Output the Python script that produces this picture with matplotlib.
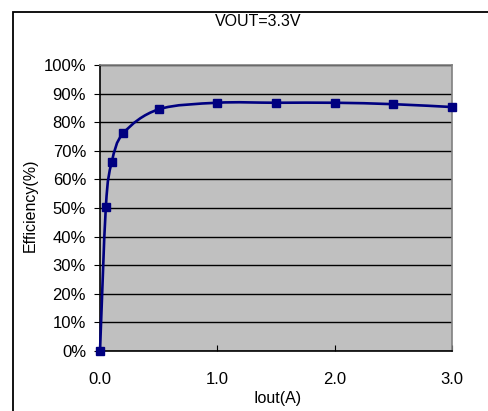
import numpy as np
import matplotlib
matplotlib.use("Agg")
import matplotlib.pyplot as plt
from matplotlib.path import Path
from matplotlib.patches import PathPatch, Rectangle

plt.rcParams['font.family'] = ['Liberation Sans', 'DejaVu Sans']

# efficiency curve, VOUT=3.3V
iout = [0.0, 0.05, 0.1, 0.2, 0.5, 1.0, 1.5, 2.0, 2.5, 3.0]
eff = [0.0, 50.5, 66.0, 76.2, 84.5, 86.8, 86.8, 86.8, 86.3, 85.3]
xticks = [0.0, 1.0, 2.0, 3.0]
yticks = list(range(0, 101, 10))

fig = plt.figure(figsize=(4.88, 4.11), dpi=100)
ax = fig.add_axes([100/488, 60/411, 352/488, 286/411])
ax.set_facecolor('#c0c0c0')

# outer frame of the chart (runs off right and bottom)
fig.patches.append(Rectangle((13/488, -0.1), 1.2, (411-12)/411 + 0.1,
                             transform=fig.transFigure, fill=False,
                             edgecolor='black', lw=1.3))

# smoothed line like excel: bezier through the points
p = np.column_stack([iout, eff])
pp = np.vstack([p[0], p, p[-1]])
verts = [tuple(p[0])]
codes = [Path.MOVETO]
for i in range(len(p) - 1):
    c1 = pp[i+1] + (pp[i+2] - pp[i]) / 6.0
    c2 = pp[i+2] - (pp[i+3] - pp[i+1]) / 6.0
    verts += [tuple(c1), tuple(c2), tuple(p[i+1])]
    codes += [Path.CURVE4] * 3
ax.add_patch(PathPatch(Path(verts, codes), fill=False, edgecolor='#000080',
                       lw=1.9, zorder=3, clip_on=False))
ax.plot(iout, eff, ls='none', marker='s', ms=6, color='#000080', zorder=4,
        clip_on=False)

ax.set_xlim(0, 3)
ax.set_ylim(0, 100)
ax.set_xticks(xticks)
ax.set_xticklabels(['%.1f' % t for t in xticks])
ax.set_yticks(yticks)
ax.set_yticklabels(['%d%%' % t for t in yticks])
ax.yaxis.grid(True, color='black', lw=1.0)
ax.set_axisbelow(True)
ax.tick_params(axis='x', direction='in', length=4, pad=15, labelsize=12)
ax.tick_params(axis='y', direction='out', length=4, pad=6, labelsize=12)
for s in ['top', 'right']:
    ax.spines[s].set_color('#808080')
    ax.spines[s].set_linewidth(1.2)
for s in ['left', 'bottom']:
    ax.spines[s].set_color('black')
    ax.spines[s].set_linewidth(1.2)

fig.text(278/488, 1 - 398/411, 'Iout(A)', ha='center', va='center', fontsize=11.5)
fig.text(30/488, 1 - 205/411, 'Efficiency(%)', ha='center', va='center',
         rotation=90, fontsize=11.5)
fig.text(258/488, 1 - 21/411, 'VOUT=3.3V', ha='center', va='center', fontsize=11.5)

fig.savefig('out.png', dpi=100)
